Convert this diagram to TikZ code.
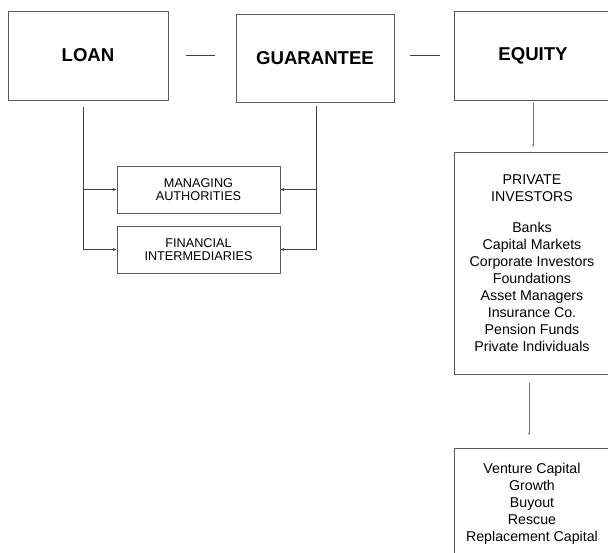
\documentclass[tikz,border=0pt]{standalone}
\usepackage{fontspec}
\setmainfont{Liberation Sans}
\usetikzlibrary{arrows.meta}
\begin{document}
\begin{tikzpicture}[x=1pt,y=-1pt,
  box/.style={draw=black!65,line width=0.8pt,inner sep=0pt,align=center,text=black},
  topbox/.style={box,font=\fontsize{18.6}{22}\selectfont\bfseries},
  smallbox/.style={box,minimum width=163pt,minimum height=47pt,font=\fontsize{12.7}{12.8}\selectfont},
  listbox/.style={box,font=\fontsize{14.2}{17}\selectfont},
  conn/.style={draw=black!75,line width=0.8pt},
  arr/.style={conn,-{Stealth[length=4pt,width=3pt]}},
  garr/.style={draw=black!55,line width=0.9pt,-{Stealth[length=2.5pt,width=2pt]}}]
\useasboundingbox (0,0) rectangle (608,552);
% top row
\node[topbox,minimum width=160pt,minimum height=89pt] (loan) at (88,55.5) {LOAN};
\node[topbox,minimum width=158pt,minimum height=88pt] (guar) at (315,58) {GUARANTEE};
\node[topbox,minimum width=158pt,minimum height=89pt] (equity) at (533,55.5) {EQUITY};
\draw[conn,shorten <=18pt,shorten >=21pt] (loan.east) -- (loan.east -| guar.west);
\draw[conn,shorten <=16pt,shorten >=14pt] (guar.east |- loan.east) -- (equity.west);
% small boxes
\node[smallbox] (mng) at (198.5,189.5) {MANAGING\\AUTHORITIES};
\node[smallbox] (fin) at (198.5,249.5) {FINANCIAL\\INTERMEDIARIES};
\coordinate (lstart) at ([xshift=-5pt,yshift=-7pt]loan.south);
\coordinate (gstart) at ([xshift=1pt,yshift=-4pt]guar.south);
\draw[arr] (lstart) |- (mng.west);
\draw[arr] (lstart) |- (fin.west);
\draw[arr] (gstart) |- (mng.east);
\draw[arr] (gstart) |- (fin.east);
% equity column
\node[listbox,minimum width=156pt,minimum height=222pt] (priv) at (532,263)
  {PRIVATE\\INVESTORS\\[14pt]Banks\\Capital Markets\\Corporate Investors\\Foundations\\Asset Managers\\Insurance Co.\\Pension Funds\\Private Individuals};
\node[listbox,minimum width=156pt,minimum height=112pt] (types) at (532,504)
  {Venture Capital\\Growth\\Buyout\\Rescue\\Replacement Capital};
\coordinate (e1) at (533,103);
\coordinate (e2) at (533,147);
\draw[garr] (e1) -- (e2);
\coordinate (p1) at (529,383);
\coordinate (p2) at (529,435);
\draw[garr] (p1) -- (p2);
\end{tikzpicture}
\end{document}
